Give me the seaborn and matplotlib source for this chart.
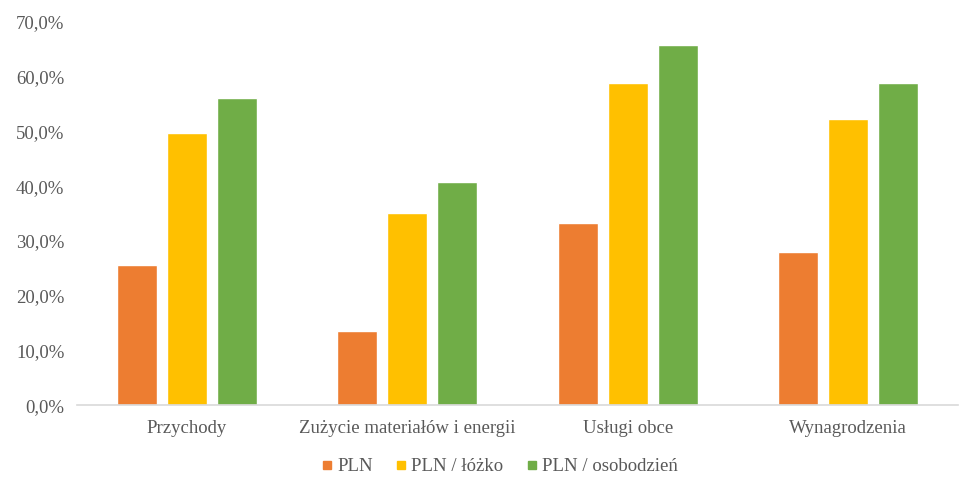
import matplotlib
matplotlib.use("Agg")
import matplotlib.pyplot as plt
import seaborn as sns
import pandas as pd
from matplotlib.ticker import FuncFormatter
from matplotlib.lines import Line2D

categories = ["Przychody", "Zużycie materiałów i energii", "Usługi obce", "Wynagrodzenia"]
series_names = ["PLN", "PLN / łóżko", "PLN / osobodzień"]
pln = [25.6, 13.5, 33.3, 28.0]
pln_lozko = [49.7, 35.1, 58.9, 52.3]
pln_osobodzien = [56.1, 40.8, 65.8, 58.9]
colors = ["#ED7D31", "#FFC000", "#70AD47"]

rows = []
for s, vals in zip(series_names, [pln, pln_lozko, pln_osobodzien]):
    for c, v in zip(categories, vals):
        rows.append({"cat": c, "series": s, "val": v})
df = pd.DataFrame(rows)

sns.set_style("white")
plt.rcParams['font.family'] = ['Liberation Serif', 'DejaVu Serif']

fig = plt.figure(figsize=(9.61, 4.8), dpi=100)
ax = fig.add_axes([0.080, 0.156, 0.917, 0.798])
sns.barplot(data=df, x="cat", y="val", hue="series", palette=colors,
            width=0.68, gap=0.2, ax=ax, legend=False, saturation=1)
ax.set_ylim(0, 70)
ax.set_yticks(range(0, 71, 10))
ax.yaxis.set_major_formatter(FuncFormatter(lambda v, p: f"{v:.1f}%".replace(".", ",")))
ax.set_xlim(-0.5, 3.5)
ax.set_xlabel("")
ax.set_ylabel("")
for sp in ["top", "right", "left"]:
    ax.spines[sp].set_visible(False)
ax.spines["bottom"].set_color("#D9D9D9")
ax.spines["bottom"].set_linewidth(1.2)
ax.tick_params(axis="both", length=0, labelsize=13.5, colors="#595959")
ax.tick_params(axis="y", pad=9)
ax.tick_params(axis="x", pad=11)
ax.grid(False)

handles = [Line2D([0], [0], marker="s", linestyle="", markersize=6,
                  markerfacecolor=c, markeredgecolor=c, label=n)
           for c, n in zip(colors, series_names)]
leg = fig.legend(handles=handles, loc="center", bbox_to_anchor=(0.518, 0.028), ncol=3,
                 frameon=False, fontsize=13.5, handletextpad=0.05, columnspacing=1.0,
                 handlelength=1.0)
for t in leg.get_texts():
    t.set_color("#595959")

fig.savefig("out.png", dpi=100)
